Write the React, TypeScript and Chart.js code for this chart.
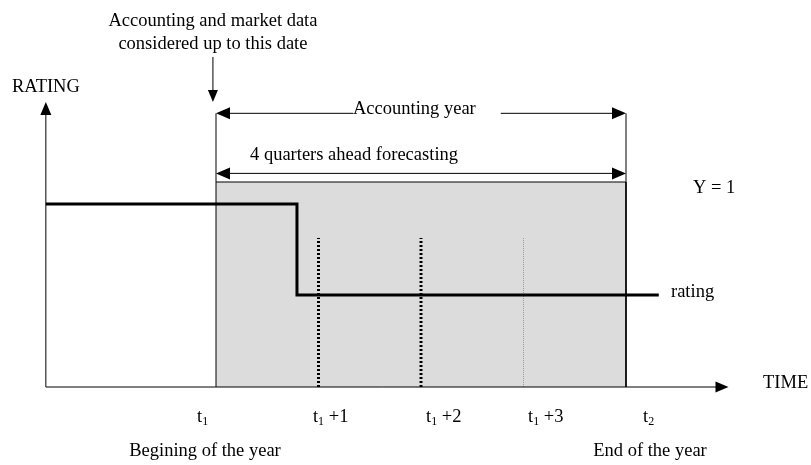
import React, { useEffect, useRef } from "react";
import { Chart, registerables } from "chart.js";

Chart.register(...registerables);

// ---- Data (time in quarters from t1, rating on a 0..1 scale where Y = 1 is the forecast band top) ----
const timeTicks = [0, 1, 2, 3, 4];
const timeTickSubs = ["1", "1", "1", "1", "2"];
const timeTickSuffixes = ["", " +1", " +2", " +3", ""];
const timeTickLabelStart = [-0.185, 0.946, 2.049, 3.044, 4.166];

const ratingX = [-1.66, 0.79, 0.79, 4.32];
const ratingY = [0.893, 0.893, 0.449, 0.449];

const quarterMarkX = [1, 2, 3];
const quarterMarkTop = 0.727;

const forecastStart = 0;
const forecastEnd = 4;
const forecastLevel = 1;

const axisOriginX = -1.66;
const yAxisTop = 1.39;
const xAxisEnd = 5.0;
const accountingYearY = 1.335;
const forecastArrowY = 1.042;
const dataDateX = -0.03;
const dataDateTop = 1.61;

const FONT = "18.5px 'Liberation Serif', 'Times New Roman', serif";
const SUBFONT = "12px 'Liberation Serif', 'Times New Roman', serif";

function arrowHead(ctx: CanvasRenderingContext2D, tipX: number, tipY: number, dir: "l" | "r" | "u" | "d", len = 13, half = 5.5) {
  ctx.beginPath();
  ctx.moveTo(tipX, tipY);
  if (dir === "r") { ctx.lineTo(tipX - len, tipY - half); ctx.lineTo(tipX - len, tipY + half); }
  if (dir === "l") { ctx.lineTo(tipX + len, tipY - half); ctx.lineTo(tipX + len, tipY + half); }
  if (dir === "u") { ctx.lineTo(tipX - half, tipY + len); ctx.lineTo(tipX + half, tipY + len); }
  if (dir === "d") { ctx.lineTo(tipX - half, tipY - len); ctx.lineTo(tipX + half, tipY - len); }
  ctx.closePath();
  ctx.fill();
}

function line(ctx: CanvasRenderingContext2D, x1: number, y1: number, x2: number, y2: number) {
  ctx.beginPath();
  ctx.moveTo(x1, y1);
  ctx.lineTo(x2, y2);
  ctx.stroke();
}

const diagramPlugin = {
  id: "diagram",
  afterDatasetsDraw(chart: any) {
    const ctx: CanvasRenderingContext2D = chart.ctx;
    const xs = chart.scales.x;
    const ys = chart.scales.y;
    const px = (v: number) => xs.getPixelForValue(v);
    const py = (v: number) => ys.getPixelForValue(v);
    ctx.save();
    ctx.fillStyle = "#000";
    ctx.strokeStyle = "#000";
    ctx.lineWidth = 1;

    // axes
    const ox = px(axisOriginX);
    const oy = py(0);
    line(ctx, ox, oy, ox, py(yAxisTop) + 10);
    arrowHead(ctx, ox, py(yAxisTop), "u");
    line(ctx, ox, oy, px(xAxisEnd) - 10, oy);
    arrowHead(ctx, px(xAxisEnd), oy, "r");

    // extension lines for dimension arrows
    const fx0 = px(forecastStart);
    const fx1 = px(forecastEnd);
    line(ctx, fx0, py(accountingYearY), fx0, py(forecastLevel));
    line(ctx, fx1, py(accountingYearY), fx1, py(forecastLevel));

    // Accounting year arrow with text gap
    ctx.font = FONT;
    ctx.textBaseline = "alphabetic";
    const ay = py(accountingYearY);
    const accText = "Accounting year";
    const accW = ctx.measureText(accText).width;
    const accStart = 353;
    line(ctx, fx0 + 10, ay, accStart, ay);
    line(ctx, accStart + accW + 25, ay, fx1 - 10, ay);
    arrowHead(ctx, fx0, ay, "l", 14, 6);
    arrowHead(ctx, fx1, ay, "r", 14, 6);
    ctx.textAlign = "left";
    ctx.fillText(accText, accStart, ay + 1);

    // forecasting arrow
    const fy = py(forecastArrowY);
    line(ctx, fx0 + 10, fy, fx1 - 10, fy);
    arrowHead(ctx, fx0, fy, "l", 14, 6);
    arrowHead(ctx, fx1, fy, "r", 14, 6);
    ctx.fillText("4 quarters ahead forecasting", 250, fy - 13);

    // data date arrow
    const dx = px(dataDateX);
    line(ctx, dx, py(dataDateTop), dx, py(yAxisTop) - 10);
    arrowHead(ctx, dx, py(yAxisTop), "d", 12, 5);
    ctx.textAlign = "center";
    ctx.fillText("Accounting and market data", dx, 26);
    ctx.fillText("considered up to this date", dx, 49);

    // other labels
    ctx.textAlign = "left";
    ctx.fillText("RATING", 12, 92);
    ctx.fillText("Y = 1", 693, py(forecastLevel) + 11);
    ctx.fillText("rating", 671, py(ratingY[ratingY.length - 1]) + 2);
    ctx.fillText("TIME", 763, oy + 1);

    // tick labels t1, t1+1 ...
    timeTicks.forEach((_, i) => {
      const x0 = px(timeTickLabelStart[i]);
      const base = oy + 35;
      ctx.font = FONT;
      ctx.fillText("t", x0, base);
      const tw = ctx.measureText("t").width;
      ctx.font = SUBFONT;
      ctx.fillText(timeTickSubs[i], x0 + tw, base + 3);
      const sw = ctx.measureText(timeTickSubs[i]).width;
      ctx.font = FONT;
      if (timeTickSuffixes[i]) ctx.fillText(timeTickSuffixes[i], x0 + tw + sw, base);
    });

    ctx.font = FONT;
    ctx.textAlign = "center";
    ctx.fillText("Begining of the year", 205, oy + 69);
    ctx.fillText("End of the year", 650, oy + 69);
    ctx.restore();
  },
};

export default function App() {
  const ref = useRef<HTMLCanvasElement>(null);
  useEffect(() => {
    if (!ref.current) return;
    const W = 811, H = 465;
    const x0px = 216, qpx = 102.5, y0px = 387, upx = 205;
    const xmin = -x0px / qpx;
    const xmax = (W - x0px) / qpx;
    const ymin = -(H - y0px) / upx;
    const ymax = y0px / upx;

    const rect = [
      { x: forecastStart, y: 0 },
      { x: forecastStart, y: forecastLevel },
      { x: forecastEnd, y: forecastLevel },
      { x: forecastEnd, y: 0 },
    ];
    const markers = quarterMarkX.map((q, i) => ({
      data: [{ x: q, y: 0 }, { x: q, y: quarterMarkTop }],
      showLine: true,
      borderColor: i < 2 ? "#000" : "#9a9a9a",
      borderWidth: i < 2 ? 3 : 1,
      borderDash: i < 2 ? [2, 2] : [1, 1],
      pointRadius: 0,
      fill: false,
      order: 5,
    }));

    const chart = new Chart(ref.current, {
      type: "scatter",
      data: {
        datasets: [
          {
            data: rect,
            showLine: true,
            borderColor: "#000",
            borderWidth: 1,
            backgroundColor: "#dcdcdc",
            fill: "origin",
            pointRadius: 0,
            order: 10,
          },
          ...markers,
          {
            data: ratingX.map((x, i) => ({ x, y: ratingY[i] })),
            showLine: true,
            borderColor: "#000",
            borderWidth: 3,
            pointRadius: 0,
            fill: false,
            order: 1,
          },
        ] as any,
      },
      options: {
        animation: false,
        responsive: true,
        maintainAspectRatio: false,
        layout: { padding: 0 },
        plugins: { legend: { display: false }, tooltip: { enabled: false }, title: { display: false } },
        events: [],
        scales: {
          x: { type: "linear", min: xmin, max: xmax, display: false },
          y: { type: "linear", min: ymin, max: ymax, display: false },
        },
      },
      plugins: [diagramPlugin],
    });
    return () => chart.destroy();
  }, []);

  return (
    <div style={{ position: "absolute", left: 0, top: 0, width: 811, height: 465, background: "#fff" }}>
      <canvas ref={ref} />
    </div>
  );
}
